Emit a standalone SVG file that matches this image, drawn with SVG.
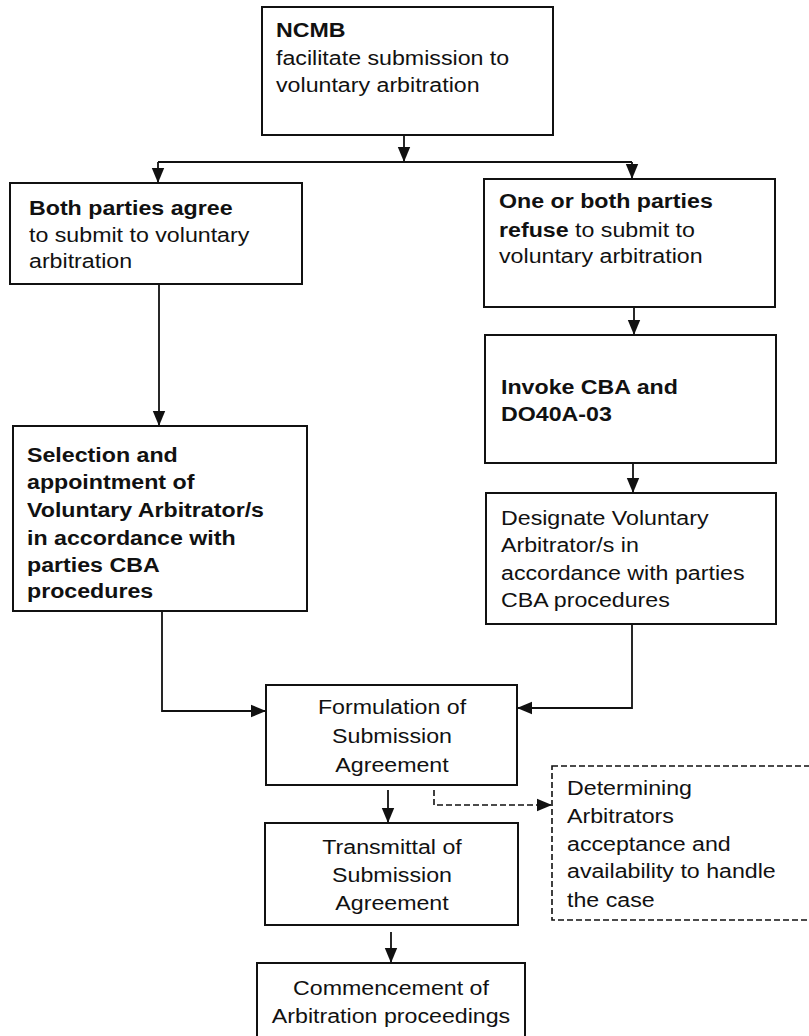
<svg xmlns="http://www.w3.org/2000/svg" width="809" height="1036" viewBox="0 0 809 1036">
<defs>
<marker id="arr" markerUnits="userSpaceOnUse" markerWidth="16" markerHeight="16" viewBox="0 0 16 16" refX="15" refY="8" orient="auto">
<path d="M0,1.8 L15,8 L0,14.2 Z" fill="#111"/>
</marker>
</defs>
<style>
.box{fill:#fff;stroke:#111;stroke-width:2}
.dbox{fill:#fff;stroke:#111;stroke-width:1.6;stroke-dasharray:6 3}
.ln{fill:none;stroke:#111;stroke-width:1.8}
.dl{fill:none;stroke:#111;stroke-width:1.6;stroke-dasharray:6 3}
text{font-family:"Liberation Sans",Arial,sans-serif;font-size:20px;fill:#111}
.b{font-weight:bold}
.c{text-anchor:middle}
</style>
<rect width="809" height="1036" fill="#fff"/>
<g id="connectors">
<path class="ln" d="M404,135 V162" marker-end="url(#arr)"/>
<path class="ln" d="M158,162 H632"/>
<path class="ln" d="M158,162 V183" marker-end="url(#arr)"/>
<path class="ln" d="M632,162 V179" marker-end="url(#arr)"/>
<path class="ln" d="M159,284 V426" marker-end="url(#arr)"/>
<path class="ln" d="M634,307 V335" marker-end="url(#arr)"/>
<path class="ln" d="M633,463 V493" marker-end="url(#arr)"/>
<path class="ln" d="M162,611 V711 H266" marker-end="url(#arr)"/>
<path class="ln" d="M632,624 V708 H517" marker-end="url(#arr)"/>
<path class="ln" d="M388,790 V823" marker-end="url(#arr)"/>
<path class="ln" d="M391,932 V963" marker-end="url(#arr)"/>
<path class="dl" d="M434,790 V805 H552" marker-end="url(#arr)"/>
</g>
<g id="ncmb">
<rect class="box" x="262" y="7" width="291" height="128"/>
<text transform="matrix(1.16,0,0,1,276,0)"><tspan class="b" x="0" y="37">NCMB</tspan><tspan x="0" y="65">facilitate submission to</tspan><tspan x="0" y="92">voluntary arbitration</tspan></text>
</g>
<g id="agree">
<rect class="box" x="10" y="183" width="292" height="101"/>
<text transform="matrix(1.16,0,0,1,29,0)"><tspan class="b" x="0" y="215">Both parties agree</tspan><tspan x="0" y="242">to submit to voluntary</tspan><tspan x="0" y="268">arbitration</tspan></text>
</g>
<g id="refuse">
<rect class="box" x="484" y="179" width="291" height="128"/>
<text transform="matrix(1.16,0,0,1,499,0)"><tspan class="b" x="0" y="208">One or both parties</tspan><tspan x="0" y="237"><tspan class="b">refuse</tspan> to submit to</tspan><tspan x="0" y="263">voluntary arbitration</tspan></text>
</g>
<g id="selection">
<rect class="box" x="13" y="426" width="294" height="185"/>
<text class="b" transform="matrix(1.16,0,0,1,27,0)"><tspan x="0" y="462">Selection and</tspan><tspan x="0" y="489">appointment of</tspan><tspan x="0" y="517">Voluntary Arbitrator/s</tspan><tspan x="0" y="545">in accordance with</tspan><tspan x="0" y="572">parties CBA</tspan><tspan x="0" y="598">procedures</tspan></text>
</g>
<g id="invoke">
<rect class="box" x="485" y="335" width="291" height="128"/>
<text class="b" transform="matrix(1.16,0,0,1,501,0)"><tspan x="0" y="394">Invoke CBA and</tspan><tspan x="0" y="421">DO40A-03</tspan></text>
</g>
<g id="designate">
<rect class="box" x="486" y="493" width="290" height="131"/>
<text transform="matrix(1.16,0,0,1,501,0)"><tspan x="0" y="525">Designate Voluntary</tspan><tspan x="0" y="552">Arbitrator/s in</tspan><tspan x="0" y="580">accordance with parties</tspan><tspan x="0" y="607">CBA procedures</tspan></text>
</g>
<g id="formulation">
<rect class="box" x="266" y="685" width="251" height="100"/>
<text class="c" transform="matrix(1.16,0,0,1,392,0)"><tspan x="0" y="714">Formulation of</tspan><tspan x="0" y="743">Submission</tspan><tspan x="0" y="772">Agreement</tspan></text>
</g>
<g id="transmittal">
<rect class="box" x="265" y="823" width="253" height="102"/>
<text class="c" transform="matrix(1.16,0,0,1,392,0)"><tspan x="0" y="854">Transmittal of</tspan><tspan x="0" y="882">Submission</tspan><tspan x="0" y="910">Agreement</tspan></text>
</g>
<g id="commencement">
<rect class="box" x="257" y="963" width="268" height="80"/>
<text class="c" transform="matrix(1.16,0,0,1,391,0)"><tspan x="0" y="995">Commencement of</tspan><tspan x="0" y="1023">Arbitration proceedings</tspan></text>
</g>
<g id="determining">
<rect class="dbox" x="552" y="766" width="262" height="154"/>
<text transform="matrix(1.16,0,0,1,567,0)"><tspan x="0" y="795">Determining</tspan><tspan x="0" y="823">Arbitrators</tspan><tspan x="0" y="851">acceptance and</tspan><tspan x="0" y="878">availability to handle</tspan><tspan x="0" y="907">the case</tspan></text>
</g>
</svg>
